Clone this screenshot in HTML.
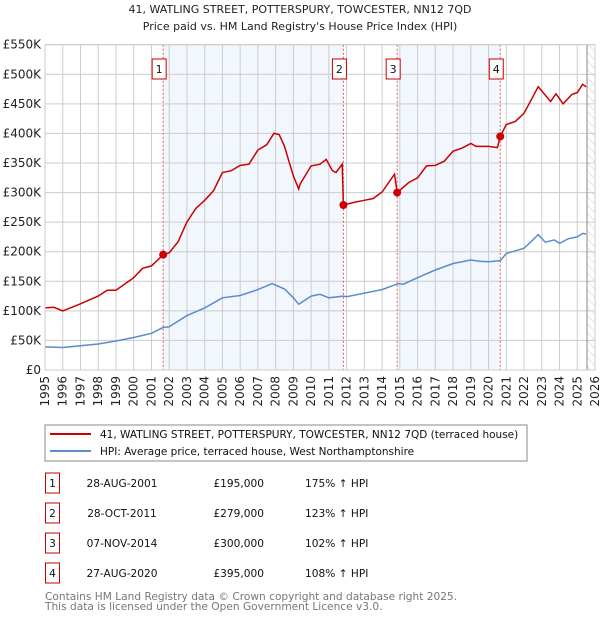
<!DOCTYPE html>
<html><head><meta charset="utf-8"><style>
body{margin:0;background:#fff;font-family:"DejaVu Sans","Liberation Sans",sans-serif}
svg text{font-family:"DejaVu Sans","Liberation Sans",sans-serif}
</style></head><body>
<svg id="c" width="600" height="620" xmlns="http://www.w3.org/2000/svg">
<defs><pattern id="hatch" width="6" height="6" patternUnits="userSpaceOnUse" patternTransform="rotate(-45)"><line x1="0" y1="0" x2="0" y2="6" stroke="#ccc" stroke-width="1"/></pattern></defs>
<text x="300" y="13" text-anchor="middle" font-size="11" fill="#222">41, WATLING STREET, POTTERSPURY, TOWCESTER, NN12 7QD</text>
<text x="300" y="30" text-anchor="middle" font-size="11" fill="#222">Price paid vs. HM Land Registry's House Price Index (HPI)</text>
<g id="plot"></g>
<rect x="45" y="425" width="482" height="36" fill="#fff" stroke="#888"/>
<line x1="50" y1="434" x2="91" y2="434" stroke="#cc0000" stroke-width="2"/>
<text x="100" y="438" font-size="10.5" fill="#111">41, WATLING STREET, POTTERSPURY, TOWCESTER, NN12 7QD (terraced house)</text>
<line x1="50" y1="451" x2="91" y2="451" stroke="#5b8ccc" stroke-width="2"/>
<text x="100" y="455" font-size="10.5" fill="#111">HPI: Average price, terraced house, West Northamptonshire</text>
<g id="table"></g>
<text x="45" y="600" font-size="10.6" fill="#777">Contains HM Land Registry data © Crown copyright and database right 2025.</text>
<text x="45" y="610" font-size="10.6" fill="#777">This data is licensed under the Open Government Licence v3.0.</text>
</svg>
<script>
const hpiYears=[1995,1996,1997,1998,1999,2000,2001,2001.66,2002,2003,2004,2005,2006,2007,2007.8,2008.5,2009,2009.3,2010,2010.5,2011,2011.8,2012,2013,2014,2014.9,2015.2,2016,2017,2018,2019,2019.5,2020,2020.66,2021,2022,2022.5,2022.8,2023.2,2023.7,2024,2024.5,2025,2025.3,2025.5];
const hpiValues=[39,38,41,44,49,55,62,72,73,92,105,122,126,136,146,137,122,111,125,128,122,125,124,130,136,146,145,156,169,180,186,184,183,185,197,206,220,229,216,220,214,222,225,231,230];
const priceYears=[1995,1995.5,1996,1997,1998,1998.5,1999,2000,2000.5,2001,2001.66,2002,2002.5,2003,2003.5,2004,2004.5,2005,2005.5,2006,2006.5,2007,2007.5,2007.9,2008.2,2008.5,2008.8,2009,2009.3,2009.37,2010,2010.5,2010.85,2011.2,2011.4,2011.75,2011.82,2012.5,2013,2013.5,2014,2014.7,2014.85,2015.5,2016,2016.5,2017,2017.5,2018,2018.5,2019,2019.3,2020,2020.5,2020.66,2021,2021.5,2022,2022.5,2022.8,2023.5,2023.8,2024.2,2024.7,2025,2025.3,2025.5];
const priceValues=[105,106,100,112,125,135,135,156,172,176,195,198,217,250,273,287,303,334,337,346,348,372,381,400,398,378,348,328,306,314,345,348,356,337,334,348,279,284,287,290,301,331,300,317,325,345,346,353,370,375,383,378,378,376,395,415,420,434,462,479,454,467,450,466,469,483,479];
const saleYears=[2001.66,2011.82,2014.85,2020.66];
const saleValues=[195,279,300,395];
const saleLabels=["1","2","3","4"];
const saleDates=["28-AUG-2001","28-OCT-2011","07-NOV-2014","27-AUG-2020"];
const salePrices=["£195,000","£279,000","£300,000","£395,000"];
const saleHpi=["175% ↑ HPI","123% ↑ HPI","102% ↑ HPI","108% ↑ HPI"];
const yTicks=[0,50,100,150,200,250,300,350,400,450,500,550];
const yTickLabels=["£0","£50K","£100K","£150K","£200K","£250K","£300K","£350K","£400K","£450K","£500K","£550K"];
const xTicks=[1995,1996,1997,1998,1999,2000,2001,2002,2003,2004,2005,2006,2007,2008,2009,2010,2011,2012,2013,2014,2015,2016,2017,2018,2019,2020,2021,2022,2023,2024,2025,2026];

const L=45,R=595,T=44.7,B=370,x0=1995,x1=2026,vmax=550,dataEnd=2025.55;
const X=y=>L+(y-x0)/(x1-x0)*(R-L);
const Y=v=>B-v/vmax*(B-T);
const NS="http://www.w3.org/2000/svg";
const g=document.getElementById('plot');
function mk(tag,attrs,parent){const e=document.createElementNS(NS,tag);for(const k in attrs)e.setAttribute(k,attrs[k]);(parent||g).appendChild(e);return e;}

for(const [a,b] of [[0,1],[2,3]]){
  const r=mk('rect',{x:X(saleYears[a]),y:T,width:X(saleYears[b])-X(saleYears[a]),height:B-T,fill:'#eef3fc',opacity:0.75});
  
  
}
const h=mk('rect',{x:X(dataEnd),y:T,width:R-X(dataEnd),height:B-T,fill:'url(#hatch)'});


yTicks.forEach((v,i)=>{
  const l=mk('line',{x1:L,x2:R,y1:Y(v),y2:Y(v),stroke:'#ccc','stroke-width':1});
  
  
  const t=mk('text',{x:L-4,y:Y(v)+4,'text-anchor':'end','font-size':12,fill:'#222'});
  t.textContent=yTickLabels[i];
  
  
});
xTicks.forEach(yr=>{
  const l=mk('line',{x1:X(yr),x2:X(yr),y1:T,y2:B,stroke:'#ccc','stroke-width':1});
  
  
  const t=mk('text',{x:0,y:0,'text-anchor':'end','font-size':12,fill:'#222',transform:`translate(${X(yr)+4},${B+6}) rotate(-90)`});
  t.textContent=yr;
  
  
});
const el=mk('line',{x1:X(dataEnd),x2:X(dataEnd),y1:T,y2:B,stroke:'#888','stroke-width':1});


saleYears.forEach((yr,i)=>{
  const l=mk('line',{x1:X(yr),x2:X(yr),y1:T,y2:B,stroke:'#ee5555','stroke-width':1,'stroke-dasharray':'2,2'});
  
  
  const b=mk('rect',{x:X(yr)-7-4,y:59,width:14,height:20,fill:'#fff',stroke:'#cc0000'});
  
  
  const t=mk('text',{x:X(yr)-4,y:73,'text-anchor':'middle','font-size':11,fill:'#111'});
  t.textContent=saleLabels[i];
  
  
});
const pts=(xs,vs)=>xs.map((x,i)=>X(x).toFixed(1)+','+Y(vs[i]).toFixed(1)).join(' ');
const hl=mk('polyline',{points:pts(hpiYears,hpiValues),fill:'none',stroke:'#5b8ccc','stroke-width':1.5});


const pl=mk('polyline',{points:pts(priceYears,priceValues),fill:'none',stroke:'#cc0000','stroke-width':1.5});


saleYears.forEach((yr,i)=>{
  const c=mk('circle',{cx:X(yr),cy:Y(saleValues[i]),r:4,fill:'#cc0000'});
  
  
});
const ax=mk('rect',{x:L,y:T,width:R-L,height:B-T,fill:'none',stroke:'#ccc'});


const tg=document.getElementById('table');
saleLabels.forEach((lab,i)=>{
  const cy=483+i*30;
  const b=mk('rect',{x:45.5,y:cy-10,width:14,height:20,fill:'#fff',stroke:'#cc0000'},tg);
  
  
  const cells=[[52.5,'middle',lab,'table-sale-number'],[122,'middle',saleDates[i],'table-sale-date'],[264,'end',salePrices[i],'table-sale-price'],[305,'start',saleHpi[i],'table-sale-hpi']];
  cells.forEach(([x,a,s,n])=>{
    const t=mk('text',{x:x,y:cy+4,'text-anchor':a,'font-size':10.6,fill:'#111'},tg);
    t.textContent=s;
    
    
  });
});
</script>
</body></html>
